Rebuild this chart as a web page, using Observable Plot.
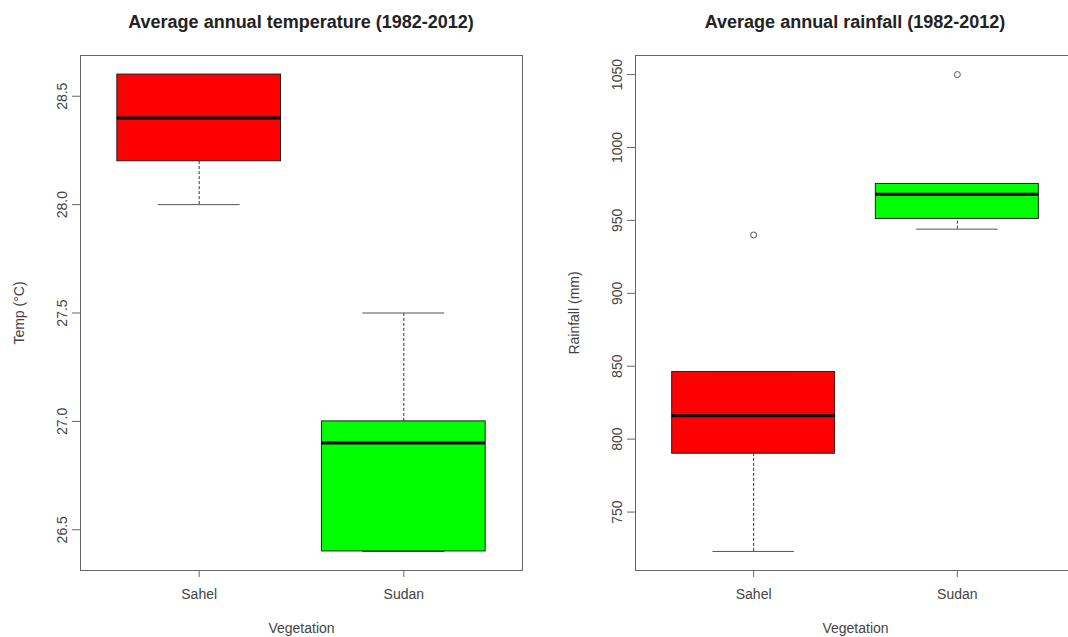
<!DOCTYPE html>
<html>
<head>
<meta charset="utf-8">
<script src="https://cdn.jsdelivr.net/npm/d3@7"></script>
<script src="https://cdn.jsdelivr.net/npm/@observablehq/plot@0.6"></script>
<style>
  html, body { margin:0; padding:0; background:#fff; overflow:hidden; width:1068px; height:637px; position:relative; }
  .panel { position:absolute; top:0; width:540px; height:637px; }
  .panel svg { max-width:none !important; }
  .title { position:absolute; top:12px; font-family:"Liberation Sans", Arial, sans-serif; font-weight:bold; font-size:18px; color:#222; text-align:center; white-space:nowrap; }
</style>
</head>
<body>
<div id="left" class="panel" style="left:0px"></div>
<div id="right" class="panel" style="left:540px"></div>
<div class="title" style="left:80px;width:442px">Average annual temperature (1982-2012)</div>
<div class="title" style="left:635px;width:440px">Average annual rainfall (1982-2012)</div>
<script>
const categories = ["Sahel", "Sudan"];
const fills = ["#ff0000", "#00ff00"];

// Temperature (°C)
const tempMin    = [28.0, 26.4];
const tempQ1     = [28.2, 26.4];
const tempMedian = [28.4, 26.9];
const tempQ3     = [28.6, 27.0];
const tempMax    = [28.6, 27.5];
const tempOutliers = [];
const tempTicks  = [26.5, 27.0, 27.5, 28.0, 28.5];

// Rainfall (mm)
const rainMin    = [723, 944];
const rainQ1     = [790, 951];
const rainMedian = [816, 968];
const rainQ3     = [846, 975];
const rainMax    = [846, 975];
const rainOutliers = [{veg: "Sahel", v: 940}, {veg: "Sudan", v: 1050}];
const rainTicks  = [750, 800, 850, 900, 950, 1000, 1050];

const FONT = "Liberation Sans, Arial, sans-serif";

function panel({ylab, ticks, fmt, mins, q1s, meds, q3s, maxs, outl, marginLeft, marginRight}) {
  const n = categories.length;
  const rows = categories.map((c, i) => ({c, x: i + 1, min: mins[i], q1: q1s[i], med: meds[i], q3: q3s[i], max: maxs[i], fill: fills[i]}));
  const all = [...mins, ...maxs, ...outl.map(d => d.v)];
  const lo = d3.min(all), hi = d3.max(all), pad = (hi - lo) * 0.04;
  const bw = 0.4, cw = 0.2;
  return Plot.plot({
    width: 540, height: 637,
    marginLeft, marginRight, marginTop: 55, marginBottom: 67,
    style: {fontFamily: FONT, fontSize: "14px", color: "#333", background: "transparent", maxWidth: "none"},
    x: {domain: [0.5 - 0.04 * n, n + 0.5 + 0.04 * n], axis: null},
    y: {domain: [lo - pad, hi + pad], axis: null},
    color: {type: "identity"},
    marks: [
      Plot.ruleX(rows, {x: "x", y1: "q3", y2: "max", stroke: "#333", strokeDasharray: "3,2"}),
      Plot.ruleX(rows, {x: "x", y1: "min", y2: "q1", stroke: "#333", strokeDasharray: "3,2"}),
      Plot.ruleY(rows, {y: "max", x1: d => d.x - cw, x2: d => d.x + cw, stroke: "#555"}),
      Plot.ruleY(rows, {y: "min", x1: d => d.x - cw, x2: d => d.x + cw, stroke: "#555"}),
      Plot.rect(rows, {x1: d => d.x - bw, x2: d => d.x + bw, y1: "q1", y2: "q3", fill: "fill", stroke: "#222", strokeWidth: 1}),
      Plot.ruleY(rows, {y: "med", x1: d => d.x - bw, x2: d => d.x + bw, stroke: "#000", strokeWidth: 3}),
      Plot.dot(outl, {x: d => categories.indexOf(d.veg) + 1, y: "v", r: 3, stroke: "#555", strokeWidth: 1}),
      Plot.frame({stroke: "#666"}),
      Plot.axisY(ticks, {tickSize: 8, tickPadding: 6, tickRotate: -90, tickFormat: fmt, stroke: "#666", fill: "#444",
        label: ylab, labelAnchor: "center", labelOffset: 66, labelArrow: "none"}),
      Plot.axisX(rows.map(d => d.x), {tickSize: 7, tickPadding: 12, tickFormat: i => categories[i - 1], stroke: "#666", fill: "#444",
        label: "Vegetation", labelAnchor: "center", labelOffset: 62, labelArrow: "none"})
    ]
  });
}

document.getElementById("left").append(panel({
  ylab: "Temp (°C)", ticks: tempTicks, fmt: d3.format(".1f"),
  mins: tempMin, q1s: tempQ1, meds: tempMedian, q3s: tempQ3, maxs: tempMax, outl: tempOutliers,
  marginLeft: 80, marginRight: 18
}));
document.getElementById("right").append(panel({
  ylab: "Rainfall (mm)", ticks: rainTicks, fmt: d3.format("d"),
  mins: rainMin, q1s: rainQ1, meds: rainMedian, q3s: rainQ3, maxs: rainMax, outl: rainOutliers,
  marginLeft: 95, marginRight: 5
}));
</script>
</body>
</html>
